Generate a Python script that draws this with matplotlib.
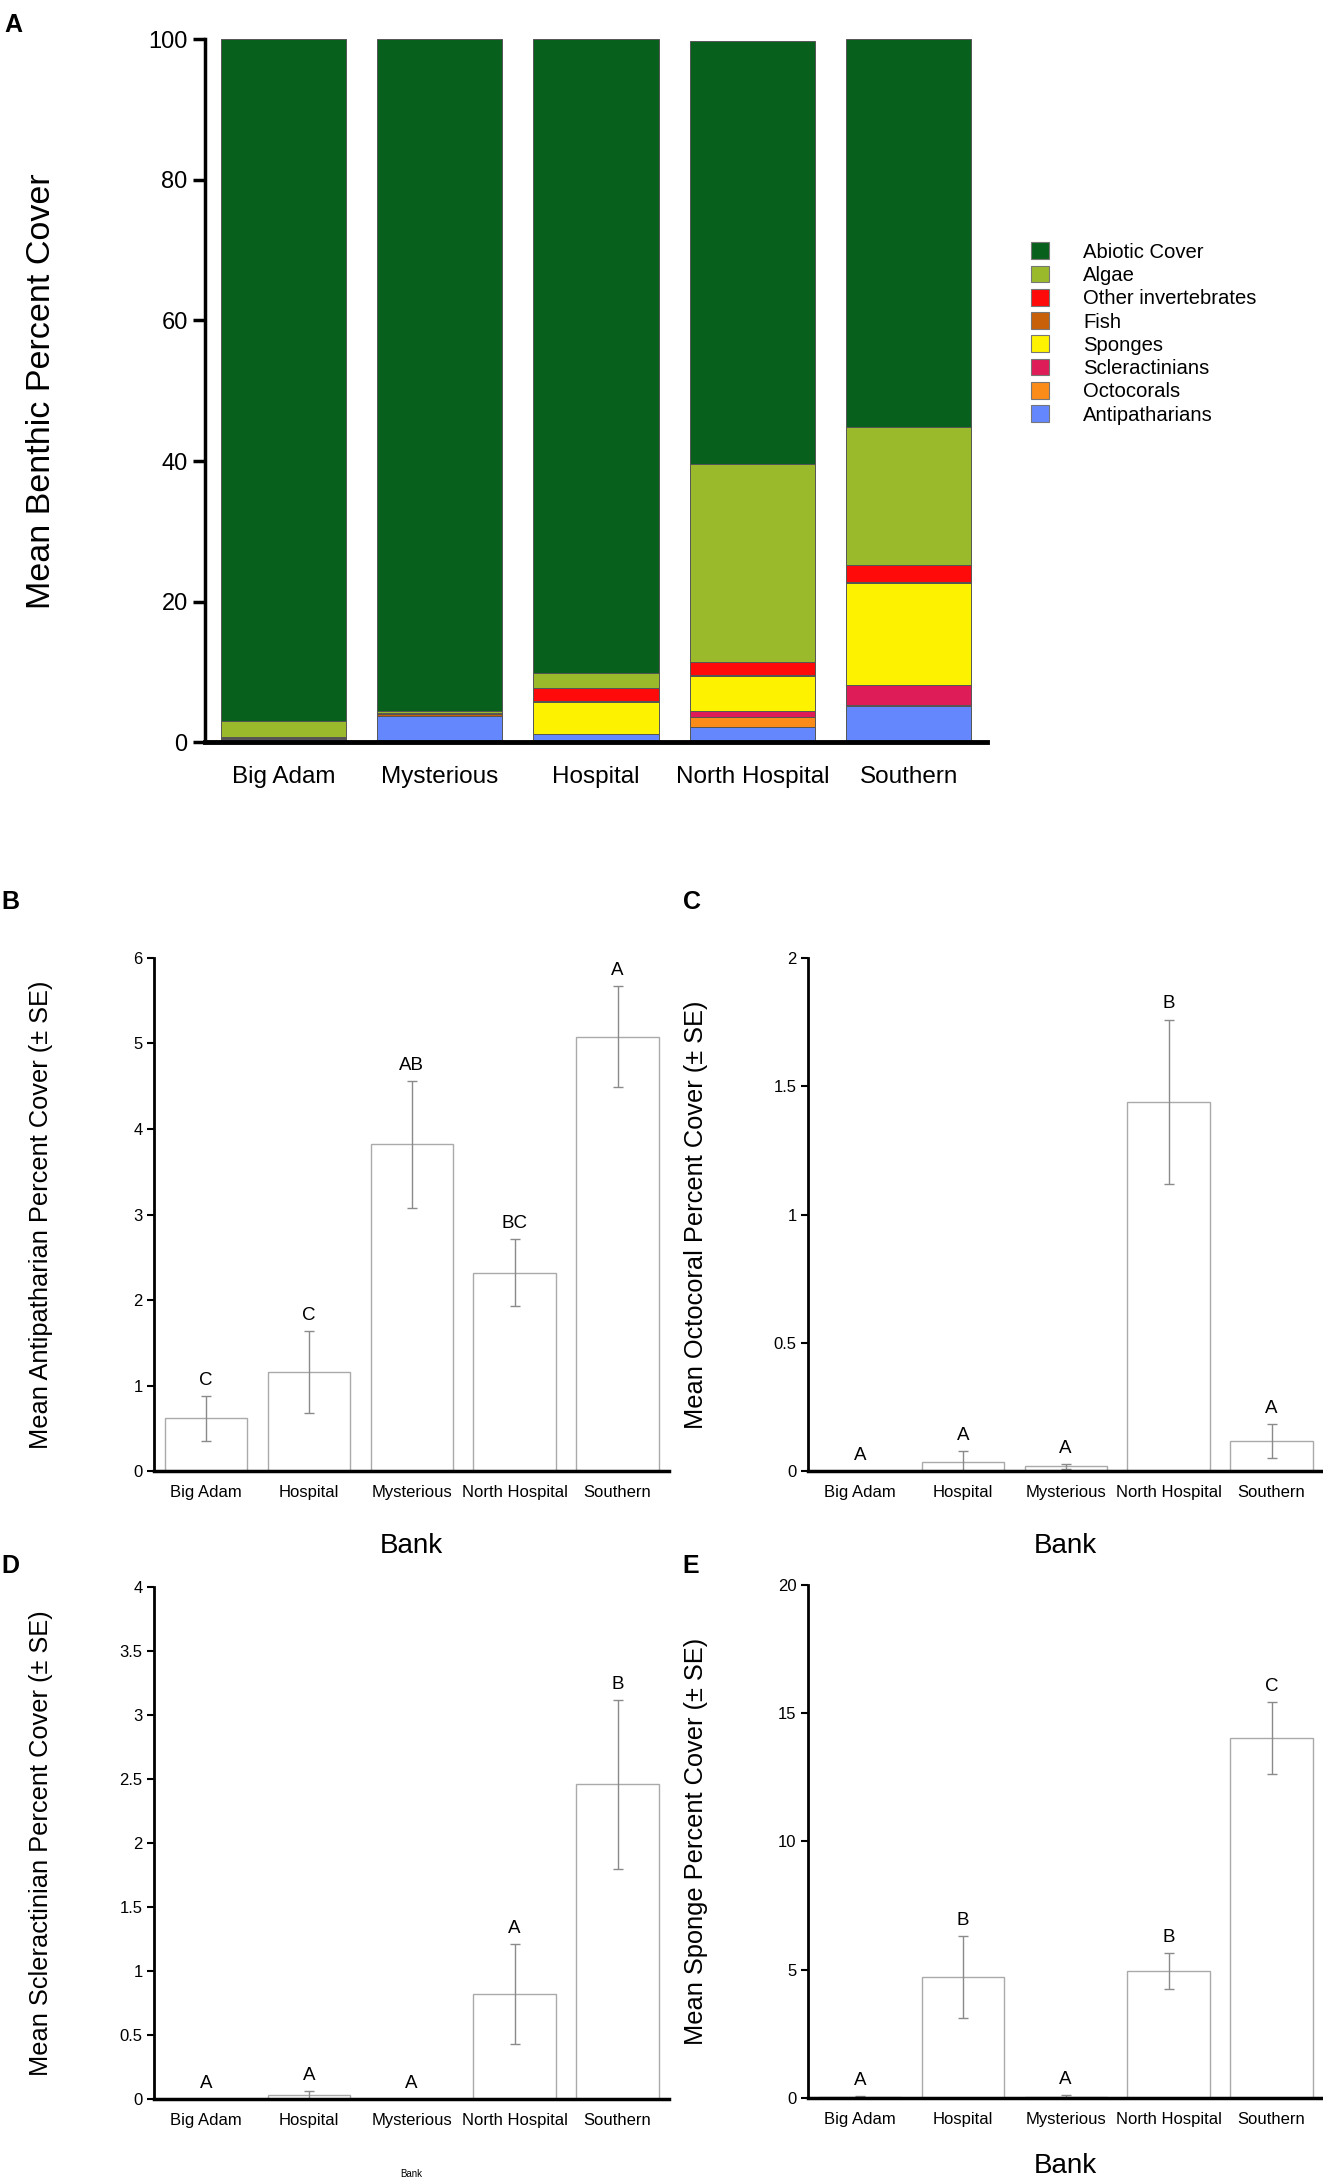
import numpy as np
import matplotlib
matplotlib.use('Agg')
import matplotlib.pyplot as plt
from matplotlib.patches import Patch

plt.rcParams['font.family'] = ['Liberation Sans', 'DejaVu Sans']

# Panel A - stacked benthic cover
bancos_a = ['Big Adam', 'Mysterious', 'Hospital', 'North Hospital', 'Southern']
antipatharians = [0.5, 3.7, 1.1, 2.2, 5.2]
octocorals = [0.0, 0.02, 0.04, 1.45, 0.12]
scleractinians = [0.0, 0.0, 0.04, 0.85, 2.8]
sponges = [0.05, 0.05, 4.6, 4.9, 14.5]
fish = [0.1, 0.3, 0.15, 0.1, 0.15]
other_inv = [0.1, 0.05, 1.85, 1.9, 2.5]
algae = [2.2, 0.35, 2.1, 28.2, 19.6]
abiotic = [97.05, 95.53, 90.12, 60.2, 55.13]

capas = ['Antipatharians', 'Octocorals', 'Scleractinians', 'Sponges',
         'Fish', 'Other invertebrates', 'Algae', 'Abiotic Cover']
colores = ['#6487fd', '#fc8c1a', '#de1c58', '#fdf200',
           '#c8600a', '#fe0a0a', '#9aba2c', '#08601d']

# Panels B-E - mean cover (+- SE)
bancos = ['Big Adam', 'Hospital', 'Mysterious', 'North Hospital', 'Southern']
antip_mean = [0.62, 1.16, 3.82, 2.32, 5.08]
antip_se = [0.26, 0.48, 0.74, 0.39, 0.59]
antip_let = ['C', 'C', 'AB', 'BC', 'A']
octo_mean = [0.0, 0.038, 0.019, 1.44, 0.118]
octo_se = [0.0, 0.042, 0.011, 0.32, 0.067]
octo_let = ['A', 'A', 'A', 'B', 'A']
scler_mean = [0.0, 0.036, 0.0, 0.82, 2.46]
scler_se = [0.0, 0.03, 0.0, 0.39, 0.66]
scler_let = ['A', 'A', 'A', 'A', 'B']
spong_mean = [0.05, 4.7, 0.05, 4.95, 14.03]
spong_se = [0.03, 1.6, 0.05, 0.7, 1.4]
spong_let = ['A', 'B', 'A', 'B', 'C']

fig = plt.figure(figsize=(13.23, 21.83), dpi=100)

# ---- A ----
ax = fig.add_axes([0.155, 0.660, 0.591, 0.322])
x = np.arange(len(bancos_a))
base = np.zeros(len(bancos_a))
series = [antipatharians, octocorals, scleractinians, sponges,
          fish, other_inv, algae, abiotic]
for vals, col in zip(series, colores):
    ax.bar(x, vals, 0.8, bottom=base, color=col, edgecolor='#555555', linewidth=0.7)
    base = base + np.array(vals)
ax.set_xlim(-0.5, 4.5)
ax.set_ylim(0, 100)
ax.set_yticks([0, 20, 40, 60, 80, 100])
ax.set_xticks(x)
ax.set_xticklabels(bancos_a)
ax.tick_params(axis='y', labelsize=17, length=9, width=2.5, direction='out')
ax.tick_params(axis='x', labelsize=17.5, length=0, pad=17)
for s in ['top', 'right']:
    ax.spines[s].set_visible(False)
ax.spines['left'].set_linewidth(2.5)
ax.spines['bottom'].set_linewidth(3.5)
fig.text(0.031, 0.821, 'Mean Benthic Percent Cover', rotation=90,
         ha='center', va='center', fontsize=24.5)
fig.text(0.003, 0.994, 'A', fontsize=18, fontweight='bold', va='top')

handles = [Patch(facecolor=c, edgecolor='#777777', linewidth=0.8) for c in colores[::-1]]
fig.legend(handles, capas[::-1], loc='upper left', bbox_to_anchor=(0.779, 0.889),
           frameon=False, fontsize=14.6, handlelength=0.9, handleheight=0.9,
           handletextpad=1.7, labelspacing=0.19, borderpad=0, borderaxespad=0)


def panel(rect, medias, errores, letras, ymax, yticks, yticklabels, ylabel, letra, lx, px, ly):
    ax = fig.add_axes(rect)
    xs = np.arange(len(bancos))
    ax.bar(xs, medias, 0.8, color='white', edgecolor='#aaaaaa', linewidth=1.0)
    ax.errorbar(xs, medias, yerr=errores, fmt='none', ecolor='#8a8a8a',
                elinewidth=1.0, capsize=3.5, capthick=1.0)
    for xi, m, e, l in zip(xs, medias, errores, letras):
        ax.annotate(l, (xi, m + e), xytext=(0, 8), textcoords='offset points',
                    ha='center', va='baseline', fontsize=13.5)
    ax.set_xlim(-0.5, 4.5)
    ax.set_ylim(0, ymax)
    ax.set_yticks(yticks)
    ax.set_yticklabels(yticklabels)
    ax.set_xticks(xs)
    ax.set_xticklabels(bancos)
    ax.tick_params(axis='y', labelsize=12, length=5, width=1.5)
    ax.tick_params(axis='x', labelsize=12, length=0, pad=10)
    for s in ['top', 'right']:
        ax.spines[s].set_visible(False)
    ax.spines['left'].set_linewidth(2.0)
    ax.spines['bottom'].set_linewidth(2.5)
    cy = rect[1] + rect[3] / 2
    fig.text(lx, cy, ylabel, rotation=90, ha='center', va='center', fontsize=18.3)
    fig.text(px, ly, letra, fontsize=18, fontweight='bold', va='center')
    return ax


panel([0.1167, 0.326, 0.389, 0.2352], antip_mean, antip_se, antip_let, 6,
      [0, 1, 2, 3, 4, 5, 6], ['0', '1', '2', '3', '4', '5', '6'],
      'Mean Antipatharian Percent Cover (± SE)', 'B', 0.031, 0.001, 0.587)
panel([0.611, 0.326, 0.389, 0.2352], octo_mean, octo_se, octo_let, 2,
      [0, 0.5, 1, 1.5, 2], ['0', '0.5', '1', '1.5', '2'],
      'Mean Octocoral Percent Cover (± SE)', 'C', 0.526, 0.516, 0.587)
panel([0.1167, 0.0383, 0.389, 0.2347], scler_mean, scler_se, scler_let, 4,
      [0, 0.5, 1, 1.5, 2, 2.5, 3, 3.5, 4],
      ['0', '0.5', '1', '1.5', '2', '2.5', '3', '3.5', '4'],
      'Mean Scleractinian Percent Cover (± SE)', 'D', 0.031, 0.001, 0.2825)
panel([0.611, 0.039, 0.389, 0.235], spong_mean, spong_se, spong_let, 20,
      [0, 5, 10, 15, 20], ['0', '5', '10', '15', '20'],
      'Mean Sponge Percent Cover (± SE)', 'E', 0.526, 0.516, 0.2825)

fig.text(0.311, 0.292, 'Bank', ha='center', va='center', fontsize=20)
fig.text(0.805, 0.292, 'Bank', ha='center', va='center', fontsize=20)
fig.text(0.805, 0.008, 'Bank', ha='center', va='center', fontsize=20)
fig.text(0.311, 0.002, 'Bank', ha='center', va='bottom', fontsize=7)

fig.savefig('out.png', dpi=100)
